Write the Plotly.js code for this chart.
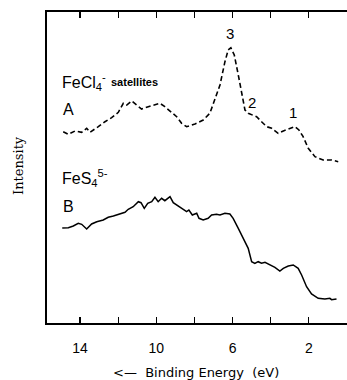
<!DOCTYPE html>
<html>
<head>
<meta charset="utf-8">
<script src="https://cdn.plot.ly/plotly-3.0.1.min.js"></script>
<style>html,body{margin:0;padding:0;background:#fff;}#chart{width:347px;height:380px;}</style>
</head>
<body>
<div id="chart"></div>
<script>
// Binding energy (eV) and relative intensity
const energyA = [14.88,14.61,14.26,13.91,13.65,13.48,13.04,12.69,12.34,11.99,11.73,11.55,11.29,11.03,10.77,10.42,10.07,9.81,9.55,9.19,8.93,8.67,8.41,7.97,7.54,7.19,6.93,6.66,6.40,6.23,6.09,5.91,5.70,5.53,5.35,5.18,4.74,4.48,4.21,3.95,3.61,3.34,2.99,2.73,2.52,2.30,2.03,1.68,1.25,0.81,0.46];
const intensityA = [191.3,188.7,192,190.7,194.7,190.7,196.3,201.3,205.3,210.7,219.7,218,222,218,214,216.3,218,219.7,216.3,210.7,206.3,199.7,196.3,199,203,209.7,223,238,261.3,273,275.3,268,248,231.3,213,209.7,206.3,201.3,196.3,194.7,189.7,192,194.7,196.3,193,186.3,174.7,166.3,163,163,161.3];

const energyB = [14.93,14.61,14.35,14.09,13.91,13.65,13.39,13.12,12.78,12.52,12.25,11.99,11.81,11.64,11.47,11.21,10.94,10.80,10.63,10.45,10.24,10.07,9.90,9.72,9.55,9.28,9.11,8.85,8.59,8.41,8.29,8.11,7.88,7.76,7.54,7.28,7.10,6.84,6.66,6.40,6.14,5.97,5.70,5.44,5.18,5.00,4.83,4.66,4.48,4.30,4.04,3.78,3.52,3.34,3.08,2.82,2.56,2.38,2.12,1.86,1.51,1.16,0.90,0.81,0.55];
const intensityB = [95,95.3,97,99.7,98.7,94,99,101.3,103,105.7,107,108.7,109.7,110.7,113.7,116.3,121.3,120.3,114.7,119.7,121.3,125.7,121.3,124.7,122.3,126.3,120.3,117,113.7,111.3,113,108,109.7,104.7,103,104.7,108,108.7,108,109.7,109,104.7,94.7,84.7,74.7,61.3,59.7,61.3,59.7,60.7,58,55.7,52,54.7,57,58,54.7,48,36.3,29,24.7,24,24.7,23.3,24];

const labeledTicks = [14,10,6,2];
const tickLabels = ['14','10','6','2'];
const minorTicks = [12,8,4];

const traces = [
  {x: energyA, y: intensityA, type: 'scatter', mode: 'lines',
   line: {color: '#000', width: 1.6, dash: '5px,3px'}, hoverinfo: 'skip'},
  {x: energyB, y: intensityB, type: 'scatter', mode: 'lines',
   line: {color: '#000', width: 1.5}, hoverinfo: 'skip'}
];

const px = v => (v - 47) / 300;
const py = v => (323 - v) / 311;
const sans = 'Liberation Sans, Arial, sans-serif';

const layout = {
  width: 347, height: 380,
  margin: {l: 47, r: 0, t: 12, b: 57, pad: 0},
  paper_bgcolor: '#fff', plot_bgcolor: '#fff',
  showlegend: false,
  xaxis: {
    range: [15.73, 0], showgrid: false, zeroline: false,
    showline: true, linecolor: '#000', linewidth: 1.6, mirror: 'ticks',
    ticks: 'inside', ticklen: 6, tickwidth: 1.2, tickcolor: '#000',
    tickmode: 'array', tickvals: labeledTicks, ticktext: tickLabels,
    tickfont: {family: sans, size: 14, color: '#000'},
    ticklabelstandoff: 12,
    minor: {tickmode: 'array', tickvals: minorTicks, ticks: 'inside', ticklen: 6, tickwidth: 1.2, tickcolor: '#000', showgrid: false}
  },
  yaxis: {
    range: [0, 311], showgrid: false, zeroline: false,
    showline: true, linecolor: '#000', linewidth: 1.6,
    ticks: '', showticklabels: false
  },
  annotations: [
    {xref: 'paper', yref: 'paper', x: px(196), y: py(372), xanchor: 'center', yanchor: 'middle',
     text: '<—  Binding Energy  (eV)', showarrow: false, font: {family: 'DejaVu Sans, sans-serif', size: 13, color: '#000'}},
    {xref: 'paper', yref: 'paper', x: px(18), y: py(166), xanchor: 'center', yanchor: 'middle',
     text: 'Intensity', textangle: -90, showarrow: false, font: {family: 'DejaVu Serif, serif', size: 13, color: '#000'}},
    {xref: 'paper', yref: 'paper', x: px(60), y: py(82), xanchor: 'left', yanchor: 'middle',
     text: 'FeCl<sub>4</sub><sup>-</sup>', showarrow: false, font: {family: sans, size: 16, color: '#000'}},
    {xref: 'paper', yref: 'paper', x: px(109), y: py(82), xanchor: 'left', yanchor: 'middle',
     text: '<b>satellites</b>', showarrow: false, font: {family: sans, size: 11, color: '#000'}},
    {xref: 'paper', yref: 'paper', x: px(61), y: py(110), xanchor: 'left', yanchor: 'middle',
     text: 'A', showarrow: false, font: {family: sans, size: 16, color: '#000'}},
    {xref: 'paper', yref: 'paper', x: px(60), y: py(178), xanchor: 'left', yanchor: 'middle',
     text: 'FeS<sub>4</sub><sup>5-</sup>', showarrow: false, font: {family: sans, size: 16, color: '#000'}},
    {xref: 'paper', yref: 'paper', x: px(61), y: py(207), xanchor: 'left', yanchor: 'middle',
     text: 'B', showarrow: false, font: {family: sans, size: 16, color: '#000'}},
    {xref: 'paper', yref: 'paper', x: px(230), y: py(33), xanchor: 'center', yanchor: 'middle',
     text: '3', showarrow: false, font: {family: sans, size: 15, color: '#000'}},
    {xref: 'paper', yref: 'paper', x: px(252), y: py(103), xanchor: 'center', yanchor: 'middle',
     text: '2', showarrow: false, font: {family: sans, size: 15, color: '#000'}},
    {xref: 'paper', yref: 'paper', x: px(293), y: py(112), xanchor: 'center', yanchor: 'middle',
     text: '1', showarrow: false, font: {family: sans, size: 15, color: '#000'}}
  ]
};

Plotly.newPlot('chart', traces, layout, {staticPlot: true, displayModeBar: false});
</script>
</body>
</html>
